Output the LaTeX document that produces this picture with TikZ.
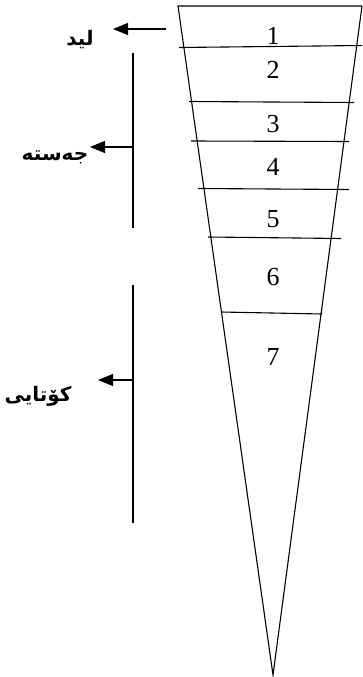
\documentclass[tikz,border=0pt]{standalone}
\usepackage{fontspec}
\setmainfont{Liberation Serif}
\newfontfamily\kurd[Script=Arabic]{DejaVu Sans Bold}
\TeXXeTstate=1
\usetikzlibrary{arrows.meta}
\tikzset{
  edge/.style={line width=1.1pt, black},
  numlbl/.style={font=\fontsize{26}{26}\selectfont, inner sep=0pt},
  kurdlbl/.style={font=\kurd\fontsize{20}{20}\selectfont, inner sep=0pt},
  pointer/.style={line width=1.1pt, -{Triangle[length=15pt,width=12pt]}},
}
\begin{document}
\begin{tikzpicture}[x=1pt,y=-1pt]
\useasboundingbox (0,0) rectangle (362,677);
% cone outline
\coordinate (tl) at (178,6);
\coordinate (tr) at (362,6);
\coordinate (tip) at (273,675);
\draw[edge, line join=miter] (tr) -- (tl) -- (tip) -- (tr);
% section lines
\draw[edge] (179,47.5) -- (362,45.5);
\draw[edge] (189,101.5) -- (354,102.5);
\draw[edge] (191,141) -- (349,141.5);
\draw[edge] (198,188.5) -- (349,189.5);
\draw[edge] (208,237) -- (341,238.5);
\draw[edge] (221,312) -- (322,314);
% numbers
\node[numlbl] (n1) at (273,36) {1};
\node[numlbl] (n2) at (273,70) {2};
\node[numlbl] (n3) at (273,124) {3};
\node[numlbl] (n4) at (273,167) {4};
\node[numlbl] (n5) at (273,219) {5};
\node[numlbl] (n6) at (273,277) {6};
\node[numlbl] (n7) at (273,357) {7};
% brackets
\coordinate (b1top) at (133,53);
\coordinate (b1bot) at (133,228);
\coordinate (b2top) at (133,285);
\coordinate (b2bot) at (133,523);
\draw[edge] (b1top) -- (b1bot);
\draw[edge] (b2top) -- (b2bot);
% labels
\node[kurdlbl] (lead) at (80,40) {\beginR لید\endR};
\node[kurdlbl] (body) at (55,157) {\beginR جەستە\endR};
\node[kurdlbl] (end) at (38,396) {\beginR کۆتایی\endR};
% pointers
\coordinate (a1s) at (166,29);
\coordinate (a1e) at (113,29);
\coordinate (a2s) at (133,147);
\coordinate (a2e) at (90,147);
\coordinate (a3s) at (133,380);
\coordinate (a3e) at (98,380);
\draw[pointer] (a1s) -- (a1e);
\draw[pointer] (a2s) -- (a2e);
\draw[pointer] (a3s) -- (a3e);
\end{tikzpicture}
\end{document}
